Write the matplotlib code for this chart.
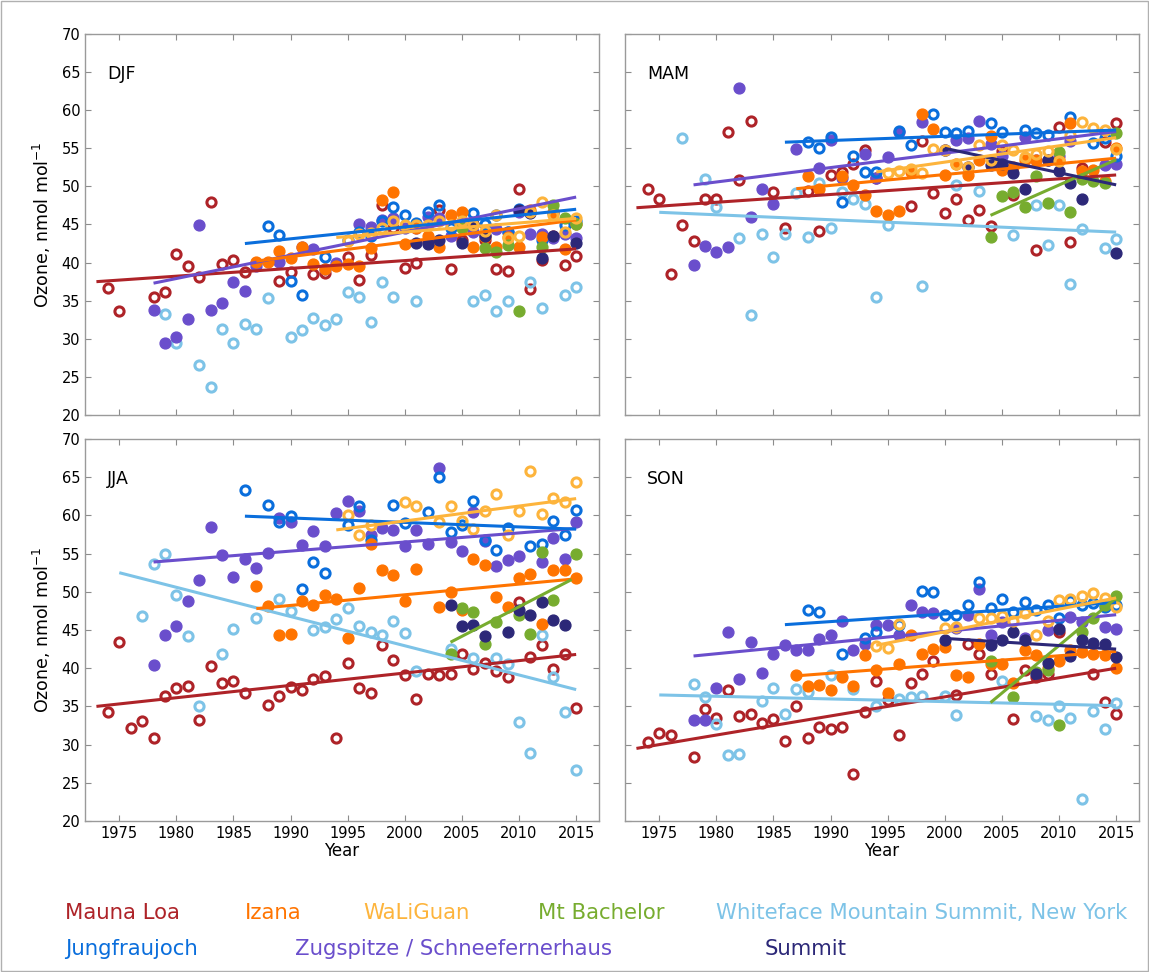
import numpy as np
import matplotlib
matplotlib.use("Agg")
import matplotlib.pyplot as plt
from matplotlib.patches import Rectangle

# station keys, names and colours
ORDER = ["mlo", "wht", "zug", "jfj", "iza", "mtb", "sum", "wlg"]
NAMES = {
    "mlo": "Mauna Loa",
    "iza": "Izana",
    "wlg": "WaLiGuan",
    "mtb": "Mt Bachelor",
    "wht": "Whiteface Mountain Summit, New York",
    "jfj": "Jungfraujoch",
    "zug": "Zugspitze / Schneefernerhaus",
    "sum": "Summit",
}
COLORS = {
    "mlo": "#AE2328",
    "iza": "#FF7400",
    "wlg": "#FDB43C",
    "mtb": "#77AC2F",
    "wht": "#7DC3E7",
    "jfj": "#0A6EDC",
    "zug": "#6A4ECC",
    "sum": "#2C2878",
}
FILLED = {"mlo": False, "iza": True, "wlg": False, "mtb": True,
          "wht": False, "jfj": False, "zug": True, "sum": True}

N = None

# seasonal means: (first year, values per year up to 2015)
djf = {
    "mlo": (1974, [36.7, 33.7, N, N, 35.5, 36.2, 41.1, 39.6, 38.1, 47.9,
                   39.8, 40.3, 38.8, 40.0, N, 37.6, 38.8, N, 38.5, 38.7,
                   N, 40.8, 37.7, 41.0, 47.6, 44.5, 39.3, 39.9, 42.8, 46.9,
                   39.2, 43.0, 44.9, 43.0, 39.2, 38.9, 49.7, 36.6, 40.4, 43.5,
                   39.7, 40.9]),
    "wht": (1979, [33.2, 29.5, N, 26.5, 23.7, 31.3, 29.5, 32.0, 31.3, 35.4,
                   N, 30.2, 31.2, 32.7, 31.8, 32.6, 36.2, 35.5, 32.2, 37.4,
                   35.5, N, 35.0, N, N, N, N, 35.0, 35.7, 33.6,
                   34.9, N, 37.5, 34.1, N, 35.7, 36.8]),
    "zug": (1978, [33.8, 29.5, 30.3, 32.6, 44.9, 33.8, 34.7, 37.4, 36.3, 39.6,
                   N, 40.1, N, 42.1, 41.8, 39.2, 40.0, N, 45.1, 44.7,
                   45.6, 45.8, 44.5, 44.5, 46.0, 45.9, 43.5, 45.0, 44.0, 43.6,
                   44.4, 44.0, 46.7, 43.8, 43.8, 43.2, 43.8, 43.2]),
    "jfj": (1988, [44.8, 43.6, 37.6, 35.7, N, 40.8, N, 43.0, 44.0, 43.5,
                   45.5, 47.3, 46.3, 45.2, 46.7, 47.6, 44.5, 45.0, 46.5, 45.0,
                   46.3, 44.0, 47.0, 46.7, 43.0, 46.5, 44.9, 45.4]),
    "iza": (1987, [40.1, 40.1, 41.5, 40.6, 42.1, 39.8, 39.2, 39.5, 39.8, 39.5,
                   41.9, 48.2, 49.2, 42.4, 44.5, 43.5, 42.1, 46.2, 46.6, 42.1,
                   43.4, 42.1, 43.4, 42.1, 46.9, 43.4, 46.6, 41.8, 45.1]),
    "mtb": (2005, [44.6, N, 41.9, 41.4, 42.3, 33.7, N, 42.1, 47.5, 45.8, 45.0]),
    "sum": (2001, [42.6, 42.5, 43.0, N, 42.6, 45.0, 43.5, N, N, 46.9,
                   46.5, 40.6, 43.5, N, 42.6]),
    "wlg": (1995, [42.8, 43.7, 43.9, 44.5, 45.4, 44.9, 44.9, 44.9, 45.5, 44.9,
                   45.4, 44.9, 44.2, 46.3, 43.2, 43.5, 46.6, 47.9, 46.3, 44.0,
                   45.8]),
}
mam = {
    "mlo": (1974, [49.7, 48.4, 38.5, 44.9, 42.8, 48.4, 48.4, 57.1, 50.9, 58.6,
                   N, 49.3, 44.6, N, 49.4, 44.2, 51.5, 51.9, 52.9, 54.8,
                   51.1, N, N, 47.4, 56.0, 49.1, 46.5, 48.4, 45.6, 46.9,
                   44.8, 54.6, 48.9, N, 41.6, N, 57.8, 42.7, 52.4, N,
                   55.8, 58.3]),
    "wht": (1977, [56.4, N, 51.0, 47.3, N, 43.2, 33.1, 43.7, 40.8, 43.7,
                   49.1, 43.3, 50.4, 44.5, 49.3, 48.4, 47.7, 35.5, 44.9, N,
                   N, 36.9, N, N, 50.2, N, 49.4, N, N, 43.6,
                   N, 47.6, 42.3, 47.6, 37.2, 44.4, N, 41.9, 43.1]),
    "zug": (1978, [39.7, 42.2, 41.4, 42.1, 62.9, 46.0, 49.7, 47.7, N, 54.9,
                   N, 52.4, 56.1, 51.1, N, 54.3, 51.1, 53.9, 57.2, N,
                   58.5, N, 54.8, 56.1, 56.4, 58.6, 55.6, 54.0, N, 56.5,
                   53.5, 53.5, 54.0, 56.0, N, N, 52.8, 52.9]),
    "jfj": (1988, [55.8, 55.1, 56.5, 48.0, 54.0, 51.9, 51.9, N, 57.3, 55.4,
                   N, 59.5, 57.1, 57.0, 57.3, N, 58.3, 57.2, N, 57.4,
                   57.0, 56.8, N, 59.1, N, 55.7, 56.3, 54.0]),
    "iza": (1988, [51.3, 49.7, N, 51.3, 50.2, 48.9, 46.8, 46.2, 46.8, 51.9,
                   59.5, 57.5, 51.5, 53.0, 51.5, 53.5, 56.6, 52.2, 52.6, 53.5,
                   53.5, N, 53.4, 58.3, 52.0, 52.2, 50.7, 55.0]),
    "mtb": (2004, [43.3, 48.8, 49.3, 47.3, 51.3, 47.8, 54.5, 46.7, 51.0, 50.7,
                   50.4, 57.0]),
    "sum": (2000, [54.8, N, 52.6, N, 52.8, 53.0, 51.7, 49.6, N, 53.5,
                   52.0, 50.5, 48.3, N, N, 41.2]),
    "wlg": (1995, [51.7, 52.0, 52.3, 51.7, 54.9, 54.8, 53.0, 52.6, 55.4, 53.5,
                   55.4, 54.8, 53.9, 54.2, 54.6, 53.3, 56.7, 58.4, 57.7, 57.4,
                   54.9]),
}
jja = {
    "mlo": (1974, [34.3, 43.4, 32.2, 33.1, 30.8, 36.4, 37.4, 37.7, 33.2, 40.3,
                   38.1, 38.3, 36.8, N, 35.2, 36.4, 37.5, 37.1, 38.6, 39.0,
                   30.9, 40.7, 37.4, 36.8, 43.0, 41.1, 39.1, 36.0, 39.3, 39.1,
                   39.2, 41.8, 39.9, 40.7, 39.6, 38.9, 48.7, 41.5, 43.1, 39.9,
                   41.8, 34.8]),
    "wht": (1977, [46.8, 53.7, 55.0, 49.6, 44.2, 35.1, N, 41.8, 45.1, N,
                   46.6, N, 49.0, 47.5, N, 45.0, 45.4, 46.4, 47.9, 45.5,
                   44.7, 44.3, 46.2, 44.6, 39.6, N, N, 42.5, N, 41.3,
                   N, 41.3, 40.5, 32.9, 28.9, 44.3, 38.9, 34.3, 26.7]),
    "zug": (1978, [40.4, 44.3, 45.5, 48.8, 51.6, 58.5, 54.8, 51.9, 54.3, 53.1,
                   55.1, 59.7, 59.1, 56.1, 57.9, 56.0, 60.3, 61.9, 60.6, 57.4,
                   58.3, 58.1, 56.0, 58.1, 56.2, 66.2, 56.5, 55.3, 60.4, 56.7,
                   53.4, 54.2, 54.7, N, 53.9, 57.1, 54.3, 59.1]),
    "jfj": (1986, [63.3, N, 61.3, 59.1, 59.9, 50.4, 53.9, 52.5, N, 58.8,
                   61.2, 56.8, N, 61.3, 59.0, N, 60.4, 65.0, 57.8, 58.8,
                   61.9, 56.8, 55.5, 58.3, N, 56.0, 56.2, 59.3, 57.5, 60.7]),
    "iza": (1987, [50.8, 48.2, 44.4, 44.5, 48.8, 48.3, 49.6, 49.0, 43.9, 50.5,
                   56.2, 52.8, 52.2, 48.8, 53.0, N, 48.0, 50.0, 47.6, 54.3,
                   53.5, 49.3, 48.0, 51.8, 52.3, 45.8, 52.8, 52.8, 51.8]),
    "mtb": (2004, [41.9, 47.9, 47.4, 43.2, 46.0, N, 46.9, 44.5, 55.2, 48.9,
                   N, 54.9]),
    "sum": (2004, [48.3, 45.5, 45.6, 44.2, N, 44.8, 47.6, 47.0, 48.6, 46.3,
                   45.6, N]),
    "wlg": (1995, [60.0, 57.4, 58.8, N, N, 61.7, 61.2, N, 59.2, 61.2,
                   59.3, 58.2, 60.6, 62.8, 57.4, 60.6, 65.8, 60.2, 62.3, 61.7,
                   64.4]),
}
son = {
    "mlo": (1974, [30.4, 31.5, 31.2, N, 28.4, 34.6, 33.5, 37.1, 33.7, 34.0,
                   32.8, 33.3, 30.5, 35.0, 30.9, 32.3, 32.1, 32.3, 26.2, 34.3,
                   38.3, 35.8, 31.2, 38.1, 39.3, 40.9, N, 36.5, 43.2, 41.9,
                   39.3, N, 33.4, 39.7, 38.9, 39.3, 44.7, N, N, 39.3,
                   35.6, 34.0]),
    "wht": (1978, [37.9, 36.2, 32.7, 28.7, 28.8, N, 35.7, 37.4, 34.0, 37.3,
                   36.9, N, 39.1, N, 37.3, N, 35.0, N, 36.0, 36.2,
                   36.4, N, 36.4, 33.9, N, N, N, 38.3, N, N,
                   33.7, 33.2, 35.1, 33.5, 22.9, 34.4, 32.1, 35.4]),
    "zug": (1978, [33.2, 33.2, 37.4, 44.8, 38.6, 43.4, 39.4, 41.8, 43.1, 42.4,
                   42.4, 43.8, 44.4, 46.2, 42.4, 43.2, 45.6, 45.7, 44.4, 48.3,
                   47.4, 47.2, N, 45.2, 47.0, 50.4, 44.4, 46.0, N, 43.9,
                   N, 45.0, N, 46.7, 46.0, N, 45.4, 45.1]),
    "jfj": (1988, [47.6, 47.3, N, 41.8, N, 44.0, 44.7, N, 45.7, N,
                   50.1, 50.0, 47.0, 47.0, 48.3, 51.3, 47.9, 49.1, 47.3, 48.7,
                   47.6, 48.3, 46.6, 48.8, 48.3, 48.5, 48.0, 48.3]),
    "iza": (1987, [39.1, 37.7, 37.8, 37.1, 38.9, 37.7, 41.7, 39.7, 36.7, 40.6,
                   44.4, 41.9, 42.5, 42.8, 39.1, 38.9, 43.2, 40.6, 40.6, 38.1,
                   42.4, 41.7, 40.0, 41.0, 42.4, 42.1, 41.9, 41.7, 40.0]),
    "mtb": (2004, [41.0, N, 36.2, N, 39.5, 39.7, 32.6, N, 44.7, 46.6,
                   48.3, 49.4]),
    "sum": (2000, [43.7, N, N, N, 43.1, 43.7, 44.7, 43.7, 39.3, 40.7,
                   45.1, 41.6, 43.7, 43.3, 43.2, 41.5]),
    "wlg": (1994, [42.9, 42.7, 45.8, N, N, N, 45.3, 45.4, N, 46.6,
                   46.6, 46.8, 46.2, 47.2, 44.3, 46.2, 48.9, 49.1, 49.4, 49.8,
                   49.2, 48.0]),
}

# trend lines: (start year, start value, end year, end value)
djf_trend = {
    "mlo": (1973, 37.5, 2015, 41.8),
    "zug": (1978, 37.3, 2015, 48.6),
    "jfj": (1986, 42.5, 2015, 47.0),
    "iza": (1987, 40.2, 2015, 45.6),
    "wlg": (1994, 43.3, 2015, 45.8),
}
mam_trend = {
    "mlo": (1973, 47.2, 2015, 51.5),
    "wht": (1975, 46.6, 2015, 44.0),
    "zug": (1978, 50.2, 2015, 57.2),
    "jfj": (1986, 55.8, 2015, 57.4),
    "iza": (1987, 49.7, 2015, 53.7),
    "wlg": (1994, 51.9, 2015, 56.4),
    "mtb": (2004, 46.2, 2015, 53.5),
    "sum": (2000, 55.0, 2015, 50.2),
}
jja_trend = {
    "mlo": (1973, 35.0, 2015, 41.8),
    "wht": (1975, 52.5, 2015, 37.2),
    "zug": (1978, 53.9, 2015, 58.3),
    "jfj": (1986, 59.9, 2015, 58.2),
    "iza": (1987, 47.8, 2015, 51.7),
    "wlg": (1994, 58.1, 2015, 62.2),
    "mtb": (2004, 43.4, 2014.6, 51.6),
}
son_trend = {
    "mlo": (1973, 29.5, 2015, 40.0),
    "wht": (1975, 36.5, 2015, 35.1),
    "zug": (1978, 41.6, 2015, 47.0),
    "jfj": (1986, 45.7, 2015, 48.6),
    "iza": (1987, 39.0, 2015, 42.2),
    "wlg": (1994, 43.0, 2015, 49.2),
    "mtb": (2004, 35.5, 2015, 49.2),
    "sum": (2000, 43.9, 2015, 42.5),
}

x_ticks = [1975, 1980, 1985, 1990, 1995, 2000, 2005, 2010, 2015]
y_ticks = [20, 25, 30, 35, 40, 45, 50, 55, 60, 65, 70]

# legend rows: (station, left edge in pixels, row)
legend_rows = [("mlo", 65, 0), ("iza", 245, 0), ("wlg", 363, 0), ("mtb", 538, 0),
               ("wht", 716, 0), ("jfj", 65, 1), ("zug", 295, 1), ("sum", 765, 1)]

W, H = 1149, 972


def draw_panel(ax, data, trend, label):
    for key in ORDER:
        c = COLORS[key]
        if key in data:
            start, vals = data[key]
            years = start + np.arange(len(vals))
            assert years[-1] == 2015, (label, key, years[-1])
            v = np.array([np.nan if x is None else x for x in vals], float)
            if FILLED[key]:
                ax.plot(years, v, ls="none", marker="o", ms=7.8, mfc=c,
                        mec=c, mew=1.0, zorder=3)
            else:
                ax.plot(years, v, ls="none", marker="o", ms=6.6, mfc="none",
                        mec=c, mew=2.2, zorder=3)
        if key in trend:
            y0, v0, y1, v1 = trend[key]
            ax.plot([y0, y1], [v0, v1], color=c, lw=2.2, zorder=4,
                    solid_capstyle="butt")
    ax.set_xlim(1972, 2017)
    ax.set_ylim(20, 70)
    ax.set_xticks(x_ticks)
    ax.set_yticks(y_ticks)
    ax.tick_params(direction="in", top=True, right=True, length=4,
                   color="#8C8C8C", labelsize=10.5)
    for s in ax.spines.values():
        s.set_color("#9A9A9A")
        s.set_linewidth(1.0)
    ax.text(0.043, 0.895, label, transform=ax.transAxes, ha="left",
            va="center", fontsize=12.5)


fig = plt.figure(figsize=(W / 100, H / 100), dpi=100)
aw = 514 / W
rects = {
    "DJF": [85 / W, 1 - 415 / H, aw, 381 / H],
    "MAM": [625 / W, 1 - 415 / H, aw, 381 / H],
    "JJA": [85 / W, 1 - 821 / H, aw, 382 / H],
    "SON": [625 / W, 1 - 821 / H, aw, 382 / H],
}
panels = [("DJF", djf, djf_trend), ("MAM", mam, mam_trend),
          ("JJA", jja, jja_trend), ("SON", son, son_trend)]

for label, data, trend in panels:
    ax = fig.add_axes(rects[label])
    draw_panel(ax, data, trend, label)
    if label in ("DJF", "MAM"):
        ax.tick_params(labelbottom=False)
    else:
        ax.set_xlabel("Year", fontsize=12, labelpad=1)
    if label in ("MAM", "SON"):
        ax.tick_params(labelleft=False)
    else:
        ax.set_ylabel("Ozone, nmol mol$^{-1}$", fontsize=12.5, labelpad=6)

for key, x, row in legend_rows:
    y = 913 if row == 0 else 949
    fig.text(x / W, 1 - y / H, NAMES[key], color=COLORS[key], fontsize=15.3,
             ha="left", va="center")

fig.patches.append(Rectangle((0.0008, 0.001), 0.998, 0.998, transform=fig.transFigure,
                             fill=False, edgecolor="#B0B0B0", lw=1.0))

fig.savefig("out.png", dpi=100)
